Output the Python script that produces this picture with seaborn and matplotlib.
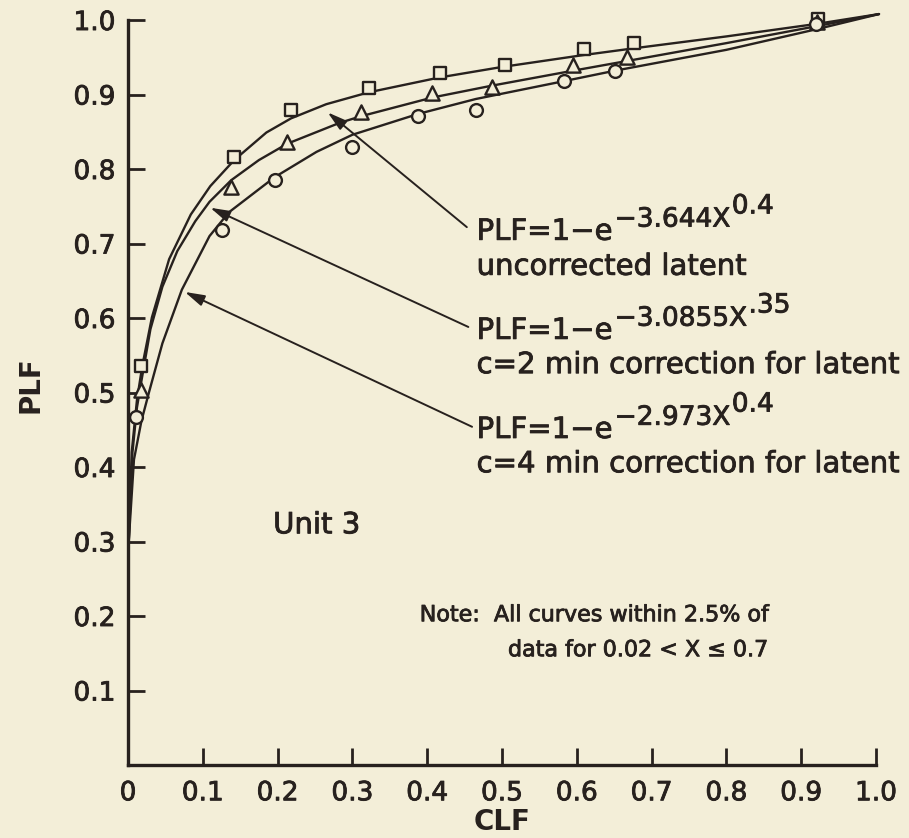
import matplotlib

matplotlib.use("Agg")

import matplotlib.patheffects as pe
import matplotlib.pyplot as plt
import pandas as pd
import seaborn as sns

PAPER = "#f3eed8"
INK = "#27211e"

# fitted curves (CLF, PLF)
SQ_CURVE_X = [0.001, 0.005, 0.012, 0.019, 0.032, 0.055, 0.084, 0.110, 0.142, 0.185,
              0.218, 0.265, 0.322, 0.417, 0.50, 0.609, 0.676, 0.80, 0.922, 1.004]
SQ_CURVE_Y = [0.30, 0.42, 0.49, 0.535, 0.601, 0.679, 0.739, 0.777, 0.812, 0.849,
              0.868, 0.887, 0.903, 0.923, 0.937, 0.953, 0.962, 0.978, 0.995, 1.008]

TRI_CURVE_X = [0.001, 0.006, 0.012, 0.017, 0.030, 0.046, 0.066, 0.090, 0.109, 0.138,
               0.175, 0.213, 0.283, 0.312, 0.407, 0.487, 0.595, 0.667, 0.80, 0.922, 1.004]
TRI_CURVE_Y = [0.30, 0.42, 0.48, 0.51, 0.585, 0.642, 0.690, 0.730, 0.756, 0.785,
               0.812, 0.834, 0.862, 0.871, 0.896, 0.912, 0.932, 0.945, 0.969, 0.992, 1.008]

CIR_CURVE_X = [0.001, 0.008, 0.018, 0.028, 0.046, 0.072, 0.109, 0.135, 0.196, 0.252,
               0.300, 0.388, 0.465, 0.583, 0.651, 0.80, 0.922, 1.004]
CIR_CURVE_Y = [0.30, 0.41, 0.462, 0.50, 0.566, 0.638, 0.710, 0.742, 0.789, 0.823,
               0.846, 0.874, 0.894, 0.918, 0.932, 0.960, 0.988, 1.008]

# measured points
SQ_X = [0.018, 0.142, 0.218, 0.322, 0.417, 0.504, 0.609, 0.676, 0.922]
SQ_Y = [0.536, 0.816, 0.879, 0.909, 0.929, 0.940, 0.961, 0.969, 1.001]

TRI_X = [0.017, 0.138, 0.213, 0.312, 0.407, 0.487, 0.595, 0.667, 0.921]
TRI_Y = [0.503, 0.776, 0.836, 0.877, 0.902, 0.910, 0.940, 0.950, 0.997]

CIR_X = [0.011, 0.126, 0.196, 0.299, 0.388, 0.465, 0.583, 0.651, 0.920]
CIR_Y = [0.467, 0.718, 0.785, 0.830, 0.871, 0.879, 0.918, 0.932, 0.995]

X_TICKS = [0.0, 0.1, 0.2, 0.3, 0.4, 0.5, 0.6, 0.7, 0.8, 0.9, 1.0]
X_TICK_LABELS = ["0", "0.1", "0.2", "0.3", "0.4", "0.5", "0.6", "0.7", "0.8", "0.9", "1.0"]
Y_TICKS = [0.1, 0.2, 0.3, 0.4, 0.5, 0.6, 0.7, 0.8, 0.9, 1.0]
Y_TICK_LABELS = ["0.1", "0.2", "0.3", "0.4", "0.5", "0.6", "0.7", "0.8", "0.9", "1.0"]

# (base, exponent, sub-exponent, caption, arrow tip, arrow tail)
LABELS = [
    ("PLF=1\u2212e", "\u22123.644X", "0.4", "uncorrected latent",
     (0.267, 0.876), (0.453, 0.722)),
    ("PLF=1\u2212e", "\u22123.0855X", ".35", "c=2 min correction for latent",
     (0.110, 0.748), (0.455, 0.588)),
    ("PLF=1\u2212e", "\u22122.973X", "0.4", "c=4 min correction for latent",
     (0.076, 0.635), (0.460, 0.454)),
]
LABEL_X = 0.466
LABEL_BASELINES = [(0.705, 0.658), (0.572, 0.526), (0.439, 0.393)]

# a thin stroke gives the text the heavier look of the original lettering
HEAVY = [pe.withStroke(linewidth=0.6, foreground=INK)]


def configure_style() -> None:
    sns.set_theme(style="ticks")
    plt.rcParams.update(
        {
            "font.family": ["DejaVu Sans"],
            "figure.facecolor": PAPER,
            "axes.facecolor": PAPER,
            "axes.edgecolor": INK,
            "text.color": INK,
            "xtick.color": INK,
            "ytick.color": INK,
            "axes.labelcolor": INK,
        }
    )


def main() -> None:
    configure_style()
    fig = plt.figure(figsize=(9.09, 8.38), dpi=100)
    ax = fig.add_axes([0.1408, 0.0871, 0.8229, 0.889])

    curves = [
        (SQ_CURVE_X, SQ_CURVE_Y),
        (TRI_CURVE_X, TRI_CURVE_Y),
        (CIR_CURVE_X, CIR_CURVE_Y),
    ]
    for cx, cy in curves:
        df = pd.DataFrame({"CLF": cx, "PLF": cy})
        sns.lineplot(data=df, x="CLF", y="PLF", sort=False, estimator=None,
                     color=INK, lw=1.7, ax=ax, clip_on=False, zorder=2)

    points = [
        (SQ_X, SQ_Y, "s", 85),
        (TRI_X, TRI_Y, "^", 105),
        (CIR_X, CIR_Y, "o", 85),
    ]
    for px, py, marker, size in points:
        df = pd.DataFrame({"CLF": px, "PLF": py})
        sns.scatterplot(data=df, x="CLF", y="PLF", marker=marker, s=size,
                        facecolor=PAPER, edgecolor=INK, linewidth=1.7,
                        ax=ax, clip_on=False, zorder=3)

    for (base, expo, sub, caption, tip, tail), (y1, y2) in zip(LABELS, LABEL_BASELINES):
        ax.annotate("", xy=tip, xytext=tail,
                    arrowprops=dict(arrowstyle="-|>,head_length=0.7,head_width=0.2",
                                    color=INK, lw=1.4, shrinkA=0, shrinkB=0,
                                    mutation_scale=17))
        t1 = ax.text(LABEL_X, y1, base, fontsize=21, va="baseline", ha="left",
                     path_effects=HEAVY)
        t2 = ax.annotate(expo, xy=(1, 0), xycoords=t1, xytext=(1.5, 9.5),
                         textcoords="offset points", fontsize=19, va="bottom",
                         ha="left", path_effects=HEAVY)
        ax.annotate(sub, xy=(1, 0), xycoords=t2, xytext=(1.0, 9.5),
                    textcoords="offset points", fontsize=19, va="bottom",
                    ha="left", path_effects=HEAVY)
        ax.text(LABEL_X, y2, caption, fontsize=21, va="baseline", ha="left",
                path_effects=HEAVY)

    ax.text(0.194, 0.311, "Unit 3", fontsize=21, va="baseline", ha="left",
            path_effects=HEAVY)
    ax.text(0.390, 0.193, "Note:  All curves within 2.5% of", fontsize=16,
            va="baseline", ha="left", path_effects=HEAVY)
    ax.text(0.508, 0.146, "data for 0.02 < X \u2264 0.7", fontsize=16,
            va="baseline", ha="left", path_effects=HEAVY)

    ax.set_xlim(0, 1.0)
    ax.set_ylim(0, 1.0)
    ax.set_xticks(X_TICKS, labels=X_TICK_LABELS)
    ax.set_yticks(Y_TICKS, labels=Y_TICK_LABELS)
    ax.tick_params(direction="in", length=12, width=2, labelsize=19, pad=9)
    ax.tick_params(axis="x", pad=11)
    for lab in ax.get_xticklabels() + ax.get_yticklabels():
        lab.set_path_effects(HEAVY)
    for side in ("top", "right"):
        ax.spines[side].set_visible(False)
    for side in ("left", "bottom"):
        ax.spines[side].set_linewidth(2.4)

    ax.set_xlabel("CLF", fontsize=20, fontweight="bold")
    ax.set_ylabel("PLF", fontsize=20, fontweight="bold")
    ax.xaxis.set_label_coords(0.5, -0.058)
    ax.yaxis.set_label_coords(-0.112, 0.51)
    ax.xaxis.label.set_va("top")

    fig.savefig("out.png", dpi=100, facecolor=PAPER)
    plt.close(fig)


if __name__ == "__main__":
    main()
